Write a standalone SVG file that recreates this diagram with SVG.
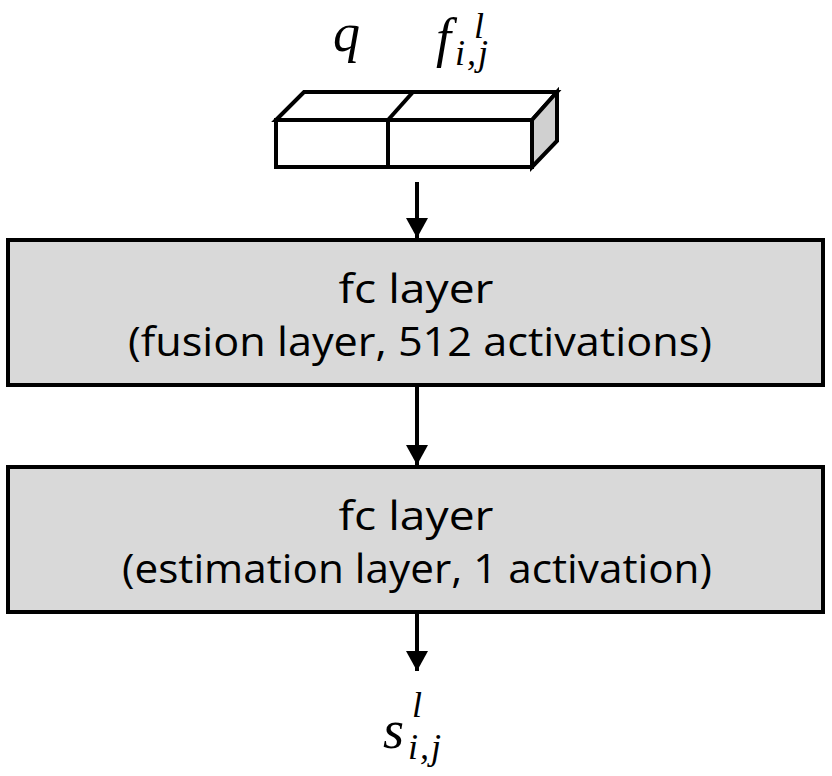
<svg xmlns="http://www.w3.org/2000/svg" width="832" height="776" viewBox="0 0 832 776">
<style>
.box{fill:#d9d9d9;stroke:#000;stroke-width:4}
.face{fill:#fff;stroke:#000;stroke-width:4;stroke-linejoin:miter}
.side{fill:#d0d0d0;stroke:#000;stroke-width:4}
.t{font-family:"Open Sans","Liberation Sans",sans-serif;font-size:40px;fill:#000;text-anchor:middle}
.m{font-family:"Liberation Serif","DejaVu Serif",serif;font-style:italic;fill:#000;font-size:54px}
.s{font-size:36px}
.c{stroke:#000;stroke-width:4;fill:none}
</style>
<defs>
<marker id="ah" markerUnits="userSpaceOnUse" markerWidth="22" markerHeight="22" refX="20" refY="11" orient="auto">
<path d="M0,0 L20,11 L0,22 Z" fill="#000"/>
</marker>
</defs>
<rect width="832" height="776" fill="#fff"/>
<g id="input">
<polygon class="face" points="276,120 304,92 557,92 532,120"/>
<polygon class="side" points="532,120 557,92 557,141 532,167"/>
<rect class="face" x="276" y="120" width="256" height="47"/>
<line class="c" x1="388" y1="120" x2="388" y2="167"/>
<line class="c" x1="388" y1="120" x2="413" y2="92"/>
<text class="m" x="333" y="51">q</text>
<text class="m" x="436" y="56">f<tspan class="s" x="474" y="38">l</tspan><tspan class="s" x="455" y="65" letter-spacing="2">i,j</tspan></text>
</g>
<g id="fusion">
<rect class="box" x="8" y="240" width="815" height="145"/>
<text class="t" x="416" y="303" textLength="155" lengthAdjust="spacingAndGlyphs">fc layer</text>
<text class="t" x="420" y="356" textLength="584" lengthAdjust="spacingAndGlyphs">(fusion layer, 512 activations)</text>
</g>
<g id="estimation">
<rect class="box" x="8" y="467" width="815" height="145"/>
<text class="t" x="416" y="530" textLength="155" lengthAdjust="spacingAndGlyphs">fc layer</text>
<text class="t" x="417" y="583" textLength="590" lengthAdjust="spacingAndGlyphs">(estimation layer, 1 activation)</text>
</g>
<g id="output">
<text class="m" x="383" y="748">s<tspan class="s" x="412" y="717">l</tspan><tspan class="s" x="408" y="759" letter-spacing="2">i,j</tspan></text>
</g>
<g id="connectors">
<line class="c" x1="417" y1="182" x2="417" y2="238" marker-end="url(#ah)"/>
<line class="c" x1="417" y1="387" x2="417" y2="465" marker-end="url(#ah)"/>
<line class="c" x1="417" y1="614" x2="417" y2="671" marker-end="url(#ah)"/>
</g>
</svg>
